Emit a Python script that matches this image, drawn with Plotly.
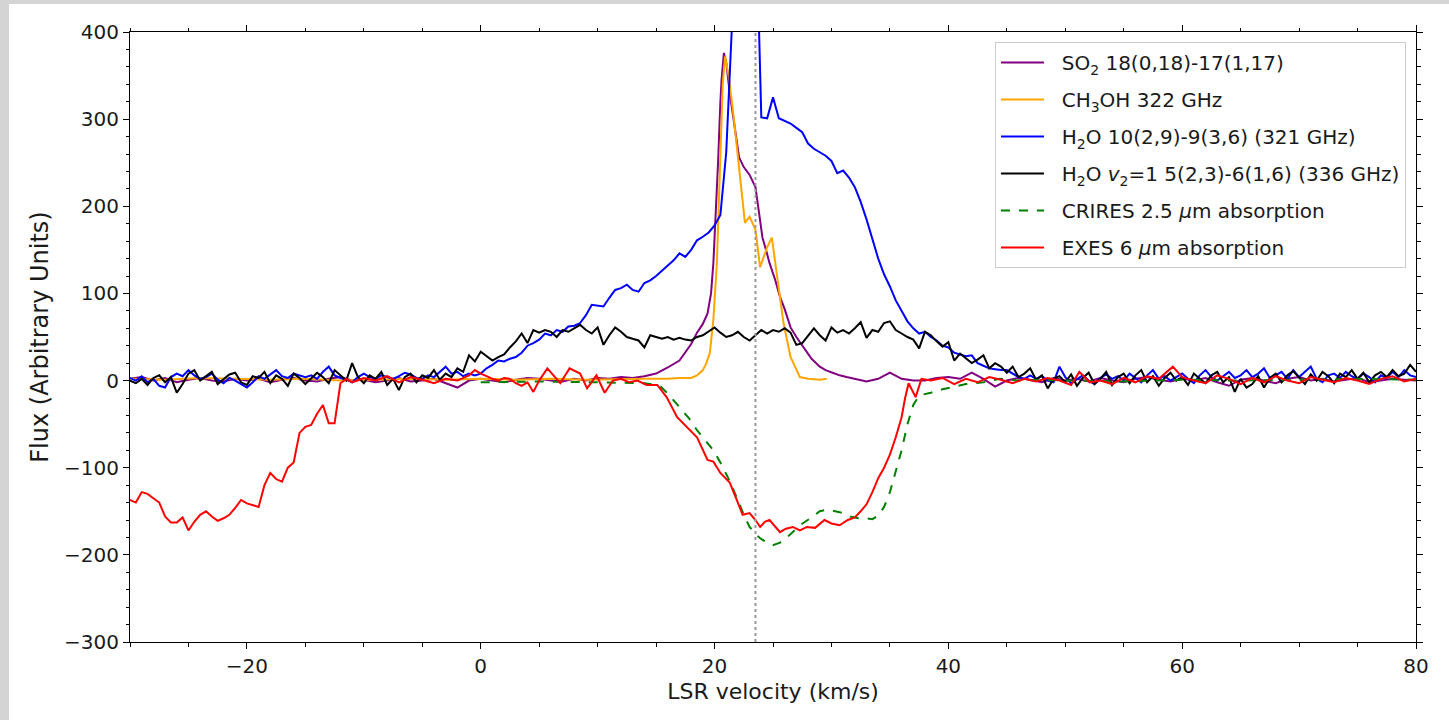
import numpy as np
import plotly.graph_objects as go

# ---------------- data ----------------
# common velocity channel grid (km/s) for the two noisy ALMA water spectra
grid_v = np.arange(-30, 80.25, 0.5)

h2o_v2_flux = [
    0, -3, 2, -5, 3, 6, -2, 4, -14, -4,
    8, 12, 0, 5, 10, -4, 2, 7, 9, -2,
    -5, 5, 3, 10, -3, 6, 2, -6, 8, 3,
    -4, 2, 9, 4, -3, 12, 6, 0, 20, 4,
    -3, 6, 2, 10, -5, 2, -11, 4, 8, -2,
    6, 3, 12, 1, 8, 4, 14, 10, 29, 22,
    33, 28, 23, 27, 30, 38, 45, 54, 43, 58,
    55, 58, 56, 50, 58, 56, 60, 64, 58, 54,
    61, 41, 52, 61, 56, 50, 48, 46, 38, 52,
    50, 48, 50, 47, 49, 47, 46, 50, 52, 56,
    61, 55, 50, 52, 56, 50, 46, 52, 58, 54,
    58, 56, 60, 55, 41, 43, 52, 60, 52, 46,
    61, 55, 58, 54, 60, 67, 49, 58, 56, 66,
    68, 58, 54, 50, 47, 37, 56, 52, 45, 39,
    44, 23, 31, 26, 20, 24, 29, 14, 20, 16,
    9, 16, 4, 8, 14, 1, 6, -9, 2, 5,
    -2, 7, -6, 3, 9, -4, 2, 10, -5, 4,
    8, -3, 6, 12, -2, 5, -6, 3, 9, 0,
    4, -5, 8, 2, -3, 6, 10, -2, 4, -13,
    2, -8, -4, 5, -8, 3, 8, -2, 6, 11,
    3, -4, 7, 0, 10, 5, -3, 8, 4, 12,
    2, 9, -2, 6, 10, 4, 12, 5, 8, 18,
    10,
]

h2o_321_flux = [
    3, 0, 5, -2, 2, -6, -8, 4, 8, 5,
    12, 6, 2, 4, 8, 1, -3, 3, 0, -4,
    -8, -2, 5, 2, 7, 12, 5, 3, 8, 6,
    4, 6, 2, 10, 16, 6, 3, 1, -2, 4,
    8, 4, 2, 6, 4, 2, 5, 9, 7, 3,
    2, 6, 4, 10, 16, 8, 10, 5, 8, 6,
    8, 14, 18, 23, 22, 25, 27, 32, 40, 43,
    47, 54, 52, 58, 56, 62, 63, 66, 75, 87,
    86, 85, 95, 104, 106, 110, 104, 102, 112, 115,
    120, 126, 131, 138, 146, 142, 150, 161, 165, 170,
    178, 190, 262, 440, 560, 620, 640, 560, 302, 301,
    325, 301, 298, 295, 290, 285, 272, 266, 262, 258,
    252, 238, 241, 233, 222, 205, 185, 163, 140, 122,
    108, 92, 80, 68, 60, 54, 56, 50, 46, 40,
    38, 32, 30, 28, 29, 20, 17, 14, 13, 12,
    12, 8, 4, 2, 6, 2, 5, 0, -2, 16,
    4, -3, 2, 6, 0, -4, 3, 7, 2, 5,
    0, 8, 3, -2, 6, 12, 2, 5, 0, 4,
    8, 2, -3, 6, 12, 4, 0, 5, 10, 3,
    6, 12, 4, 8, 14, 3, 6, 10, 2, 12,
    4, 10, 16, 2, -2, 6, 8, 3, 10, 5,
    2, 8, 4, -2, 6, 3, 10, 4, 12, 6,
    4,
]

so2_pts = [
    (-30, 2), (-29, 4), (-28, 0), (-27, 3), (-26, -2), (-25, 1), (-24, 3), (-23, 0),
    (-22, -1), (-21, 2), (-20, 0), (-19, 2), (-18, -2), (-17, 1), (-16, 3), (-15, 0),
    (-14, -1), (-13, 2), (-12, 4), (-11, 0), (-10, 1), (-9, -2), (-8, 0), (-7, 3),
    (-6, -1), (-5, 0), (-4, 2), (-3, -3), (-2, -8), (-1, 0), (0, 2), (1, 0), (2, -2),
    (3, 1), (4, 3), (5, 2), (6, 0), (7, -1), (8, 2), (9, 0), (10, 3), (11, 2), (12, 4),
    (13, 3), (14, 5), (15, 8), (16, 15), (17, 23), (17.5, 32), (18, 42), (18.5, 55),
    (19, 65), (19.4, 77), (19.7, 100), (19.9, 135), (20.1, 190), (20.3, 250),
    (20.5, 320), (20.6, 345), (20.8, 376), (21, 365), (21.3, 330), (21.6, 300),
    (21.9, 270), (22.1, 256), (22.5, 245), (23, 236), (23.5, 222), (23.8, 195),
    (24.1, 164), (24.4, 150), (24.7, 135), (25.2, 115), (25.6, 96), (26, 82),
    (26.5, 61), (27, 50), (27.6, 39), (28.3, 25), (29, 16), (29.5, 12), (30.1, 9),
    (30.7, 6), (31.3, 4), (32, 2), (33, -1), (34, 2), (35, 9), (36, 2), (37, 0),
    (38, 0), (39, 3), (40, 4), (41, 2), (42, 9), (43, 2), (44, -7), (45, 0), (46, 3),
    (47, 1), (48, -2), (49, 3), (50, 0), (51, 2), (52, -1), (53, 3), (54, 0), (55, -2),
    (56, 2), (57, 4), (58, 1), (59, -1), (60, 2), (61, 0), (62, 3), (63, -2), (64, -6),
    (65, 1), (66, 3), (67, 0), (68, -3), (69, 2), (70, 4), (71, 0), (72, 2), (73, -1),
    (74, 1), (75, 3), (76, -2), (77, 0), (78, 2), (79, 1), (80, 0),
]

ch3oh_pts = [
    (-30, 2), (-27, 1), (-24, 3), (-21, 2), (-18, 1), (-15, 2), (-12, 0), (-9, 1),
    (-6, 2), (-3, 1), (0, 2), (3, 1), (6, 2), (9, 1), (12, 2), (14, 2), (16, 2),
    (17, 3), (18, 3), (18.5, 6), (19, 12), (19.3, 20), (19.6, 32), (19.9, 70),
    (20.2, 135), (20.5, 260), (20.7, 340), (20.9, 372), (21.2, 350), (21.6, 307),
    (22.2, 230), (22.6, 181), (23.0, 188), (23.5, 173), (23.9, 130), (24.2, 142),
    (24.5, 153), (24.9, 164), (25.4, 115), (25.9, 66), (26.5, 27), (27.3, 4),
    (28, 2), (29, 1), (29.6, 2),
]

crires_pts = [
    (0, -2), (5, -1), (10, -2), (14, -3), (15, -5), (15.4, -7), (16, -15), (17, -30),
    (17.8, -43), (18.5, -57), (19.2, -68), (19.9, -80), (20.5, -94), (21.1, -110),
    (21.7, -128), (22.2, -145), (22.6, -157), (23.0, -168), (23.5, -176), (23.9, -181),
    (24.5, -186), (25.0, -189), (25.6, -186), (26.2, -180), (26.8, -172), (27.3, -166),
    (28.2, -158), (29.0, -150), (29.7, -148), (30.3, -150), (31.0, -152), (31.6, -156),
    (32.3, -158), (32.9, -158), (33.5, -159), (34.0, -155), (34.5, -145), (35.0, -128),
    (35.5, -105), (36.0, -80), (36.5, -50), (37.0, -28), (37.5, -17), (38.5, -14),
    (39.5, -10), (40.5, -7), (41.5, -4), (43, -2), (44.4, 2), (46, 0), (48, 1), (50, 0),
    (55, -1), (60, 1), (65, 0), (70, 1), (75, 2), (80, 1),
]

exes_pts = [
    (-30, -137), (-29.5, -140), (-29, -128), (-28.5, -130), (-28, -135), (-27.5, -140),
    (-27, -156), (-26.5, -163), (-26, -163), (-25.5, -157), (-25, -172), (-24.5, -162),
    (-24, -154), (-23.5, -150), (-23, -156), (-22.5, -161), (-22, -158), (-21.5, -154),
    (-21, -146), (-20.5, -137), (-20, -141), (-19.5, -143), (-19, -145), (-18.5, -120),
    (-18, -106), (-17.5, -113), (-17, -116), (-16.5, -100), (-16, -94), (-15.5, -60),
    (-15, -53), (-14.5, -51), (-14, -38), (-13.5, -28), (-13, -49), (-12.5, -49),
    (-12, -3), (-11.5, 2), (-11, -2), (-10, 3), (-9, 0), (-8, 5), (-7, -2), (-6, 4),
    (-5, 1), (-4, -3), (-3, 2), (-2, 0), (-1, 6), (-0.5, 12), (0, 8), (0.5, 5), (1, 2),
    (1.5, 0), (2, 3), (2.5, 2), (3, -3), (3.5, -6), (4, -2), (4.5, -13), (5, 0),
    (5.7, 14), (6.3, 4), (6.8, -3), (7.6, 14), (8.5, 8), (9.1, -9), (9.9, 6),
    (10.6, -14), (11.3, 0), (12, 2), (12.7, -2), (13.4, 0), (14.2, -5), (15.1, -5),
    (15.9, -19), (16.8, -42), (17.6, -53), (18.5, -65), (19.4, -91), (19.9, -93),
    (20.5, -106), (21.3, -117), (21.9, -137), (22.4, -154), (23.0, -152), (23.5, -160),
    (23.9, -168), (24.3, -162), (24.7, -160), (25.2, -168), (25.6, -174), (26.1, -170),
    (26.7, -168), (27.3, -172), (27.9, -168), (28.6, -169), (29.4, -160), (30.0, -164),
    (30.7, -166), (31.4, -160), (32.0, -157), (32.5, -150), (33.0, -142), (33.5, -128),
    (34.0, -112), (34.5, -100), (35.0, -85), (35.5, -65), (36.0, -42), (36.3, -20),
    (36.6, -3), (37.2, -19), (37.7, 2), (38.5, 0), (39.5, 3), (40.5, -4), (41.5, 2),
    (42.5, -2), (43.5, 4), (44.5, 1), (45.5, -3), (46.5, 2), (47.5, -1), (48.5, 3),
    (49.5, 0), (50.5, -5), (51.2, 10), (52.1, -2), (53, 0), (54, -4), (55, 3), (56, -2),
    (57, 5), (58, 2), (59.2, 16), (60, 4), (61, 0), (62, -3), (63, 6), (64, 2), (65, -4),
    (66, 3), (67, -2), (68, 5), (69, 0), (70, -3), (71, 4), (72, 1), (73, -2), (74, 3),
    (75, 0), (76, -4), (77, 2), (78, 5), (79, -1), (80, 2),
]

systemic_velocity = 23.5

labels = [
    "SO<sub>2</sub> 18(0,18)-17(1,17)",
    "CH<sub>3</sub>OH 322 GHz",
    "H<sub>2</sub>O 10(2,9)-9(3,6) (321 GHz)",
    "H<sub>2</sub>O <i>v</i><sub>2</sub>=1 5(2,3)-6(1,6) (336 GHz)",
    "CRIRES 2.5 <i>μ</i>m absorption",
    "EXES 6 <i>μ</i>m absorption",
]
colors = ["#800080", "#FFA500", "#0000FF", "#000000", "#008000", "#FF0000"]

# ---------------- figure ----------------
n = min(len(grid_v), len(h2o_v2_flux), len(h2o_321_flux))
series = [
    (list(zip(*so2_pts))[0], list(zip(*so2_pts))[1], "solid"),
    (list(zip(*ch3oh_pts))[0], list(zip(*ch3oh_pts))[1], "solid"),
    (grid_v[:n], h2o_321_flux[:n], "solid"),
    (grid_v[:n], h2o_v2_flux[:n], "solid"),
    (list(zip(*crires_pts))[0], list(zip(*crires_pts))[1], "dash"),
    (list(zip(*exes_pts))[0], list(zip(*exes_pts))[1], "solid"),
]

fig = go.Figure()
for i, ((xv, yv, dash), lab, col) in enumerate(zip(series, labels, colors)):
    fig.add_trace(go.Scatter(
        x=list(xv), y=list(yv), mode="lines", name="&nbsp;&nbsp;" + lab,
        line=dict(color=col, width=2, dash=dash),
        legendgroup=f"g{i}",
    ))

font_family = "DejaVu Sans"
txt = "#1a1a1a"
marble = "#d4d4d4"

fig.update_layout(
    width=1449, height=720,
    margin=dict(l=130, r=33, t=32, b=78),
    paper_bgcolor="white",
    plot_bgcolor="white",
    font=dict(family=font_family, color=txt, size=20),
    showlegend=True,
    legend=dict(
        x=0.9922, y=0.9836, xanchor="right", yanchor="top",
        bgcolor="rgba(255,255,255,0.85)", bordercolor="#cccccc", borderwidth=1,
        font=dict(family=font_family, size=20, color=txt),
        tracegroupgap=8, itemwidth=43,
    ),
    shapes=[
        # grey marble border strips (top and left) outside the white figure
        dict(type="rect", xref="paper", yref="paper",
             x0=-0.2, x1=-0.0941, y0=-0.2, y1=1.2,
             fillcolor=marble, line=dict(width=0), layer="below"),
        dict(type="rect", xref="paper", yref="paper",
             x0=-0.2, x1=1.2, y0=1.0459, y1=1.2,
             fillcolor=marble, line=dict(width=0), layer="below"),
        dict(type="line", xref="x", yref="paper",
             x0=systemic_velocity, x1=systemic_velocity, y0=0, y1=1,
             line=dict(color="#999999", width=2, dash="dot")),
    ],
)

axis_common = dict(
    showline=True, linecolor="black", linewidth=1, mirror="allticks",
    ticks="outside", ticklen=6, tickwidth=1, tickcolor="black",
    showgrid=False, zeroline=False,
    tickfont=dict(family=font_family, size=20, color=txt),
)

fig.update_xaxes(
    range=[-30, 80], tick0=0, dtick=20,
    minor=dict(dtick=5, tick0=0, ticks="outside", ticklen=3.5, tickcolor="black", showgrid=False),
    title=dict(text="LSR velocity (km/s)", font=dict(family=font_family, size=22, color=txt), standoff=6),
    **axis_common,
)
fig.update_yaxes(
    range=[-300, 400], tick0=0, dtick=100,
    minor=dict(dtick=20, tick0=0, ticks="outside", ticklen=3.5, tickcolor="black", showgrid=False),
    title=dict(text="Flux (Arbitrary Units)", font=dict(family=font_family, size=24, color=txt), standoff=8),
    **axis_common,
)

fig.write_html("out.html")
